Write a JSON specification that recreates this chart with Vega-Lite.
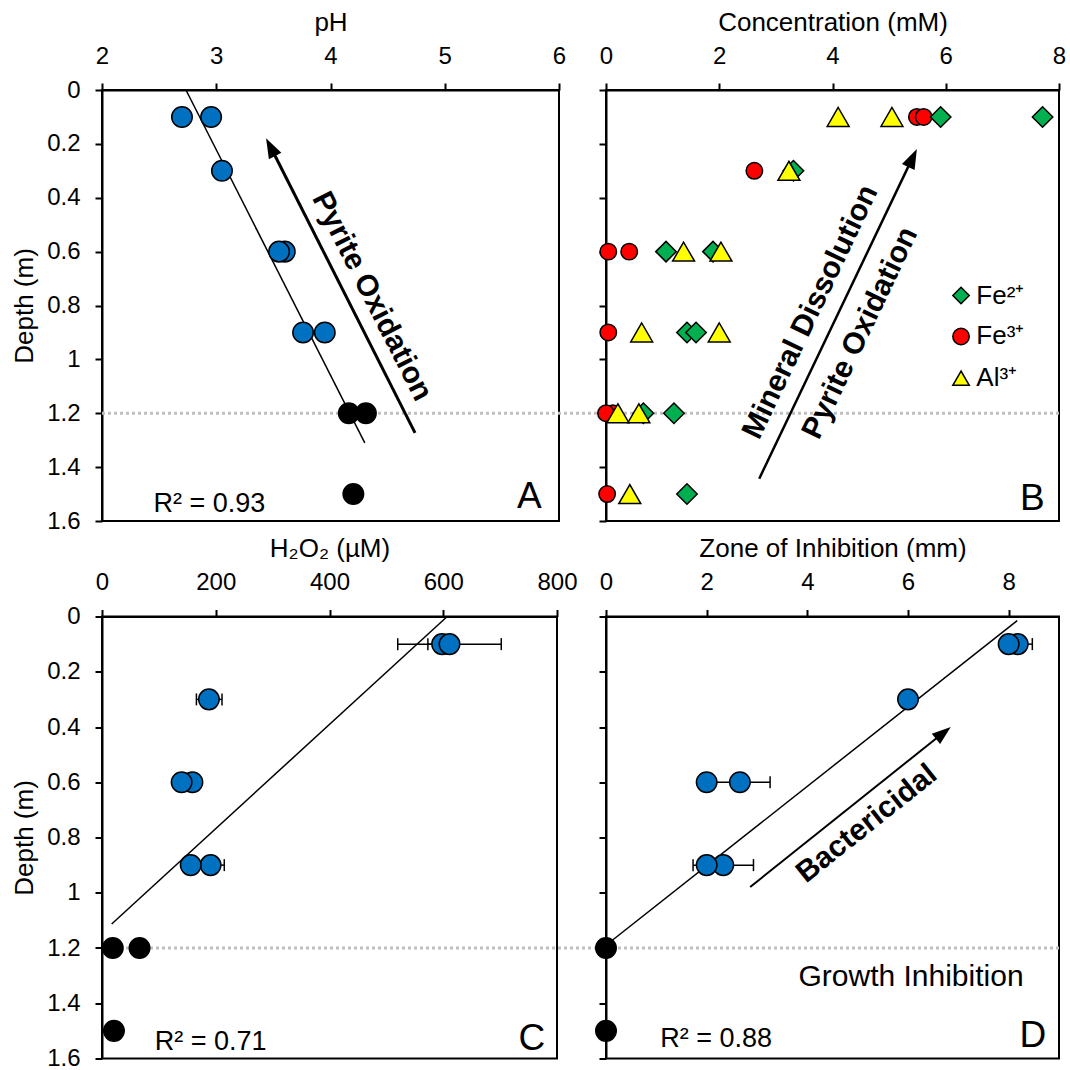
{
  "$schema": "https://vega.github.io/schema/vega-lite/v6.json",
  "background": "white",
  "padding": {"left": 10, "top": 8, "right": 0, "bottom": 0},
  "datasets": {
    "ph": [
      {"depth": 0.1, "x": 2.70, "zone": "upper"},
      {"depth": 0.1, "x": 2.955, "zone": "upper"},
      {"depth": 0.3, "x": 3.05, "zone": "upper"},
      {"depth": 0.6, "x": 3.60, "zone": "upper"},
      {"depth": 0.6, "x": 3.55, "zone": "upper"},
      {"depth": 0.9, "x": 3.76, "zone": "upper"},
      {"depth": 0.9, "x": 3.95, "zone": "upper"},
      {"depth": 1.2, "x": 4.16, "zone": "lower"},
      {"depth": 1.2, "x": 4.31, "zone": "lower"},
      {"depth": 1.5, "x": 4.20, "zone": "lower"}
    ],
    "ph_fit": [{"depth": 0.0, "x": 2.735}, {"depth": 1.31, "x": 4.30}],
    "ph_arrow": [{"depth": 1.273, "x": 4.74}, {"depth": 0.204, "x": 3.467}],
    "ph_head": [{"depth": 0.179, "x": 3.436}],
    "ph_rule": [{"depth": 1.2, "x": 2, "x2": 6.41}],
    "ph_arrowtext": [{"depth": 0.766, "x": 4.363, "label": "Pyrite Oxidation"}],
    "ph_r2": [{"depth": 1.537, "x": 2.94, "label": "R² = 0.93"}],
    "ph_letter": [{"depth": 1.511, "x": 5.74, "label": "A"}],
    "conc": [
      {"depth": 0.1, "x": 5.49, "ion": "Fe³⁺"},
      {"depth": 0.1, "x": 5.61, "ion": "Fe³⁺"},
      {"depth": 0.3, "x": 2.62, "ion": "Fe³⁺"},
      {"depth": 0.6, "x": 0.04, "ion": "Fe³⁺"},
      {"depth": 0.6, "x": 0.41, "ion": "Fe³⁺"},
      {"depth": 0.9, "x": 0.04, "ion": "Fe³⁺"},
      {"depth": 1.2, "x": 0.12, "ion": "Fe³⁺"},
      {"depth": 1.2, "x": 0.0, "ion": "Fe³⁺"},
      {"depth": 1.5, "x": 0.02, "ion": "Fe³⁺"},
      {"depth": 0.1, "x": 5.91, "ion": "Fe²⁺"},
      {"depth": 0.1, "x": 7.71, "ion": "Fe²⁺"},
      {"depth": 0.3, "x": 3.31, "ion": "Fe²⁺"},
      {"depth": 0.6, "x": 1.06, "ion": "Fe²⁺"},
      {"depth": 0.6, "x": 1.89, "ion": "Fe²⁺"},
      {"depth": 0.9, "x": 1.43, "ion": "Fe²⁺"},
      {"depth": 0.9, "x": 1.59, "ion": "Fe²⁺"},
      {"depth": 1.2, "x": 0.66, "ion": "Fe²⁺"},
      {"depth": 1.2, "x": 1.20, "ion": "Fe²⁺"},
      {"depth": 1.5, "x": 1.43, "ion": "Fe²⁺"},
      {"depth": 0.1, "x": 4.10, "ion": "Al³⁺"},
      {"depth": 0.1, "x": 5.05, "ion": "Al³⁺"},
      {"depth": 0.3, "x": 3.23, "ion": "Al³⁺"},
      {"depth": 0.6, "x": 1.37, "ion": "Al³⁺"},
      {"depth": 0.6, "x": 2.03, "ion": "Al³⁺"},
      {"depth": 0.9, "x": 0.63, "ion": "Al³⁺"},
      {"depth": 0.9, "x": 2.00, "ion": "Al³⁺"},
      {"depth": 1.2, "x": 0.21, "ion": "Al³⁺"},
      {"depth": 1.2, "x": 0.58, "ion": "Al³⁺"},
      {"depth": 1.5, "x": 0.42, "ion": "Al³⁺"}
    ],
    "conc_legend": [
      {"depth": 0.763, "x": 6.27, "xl": 6.54, "ion": "Fe²⁺"},
      {"depth": 0.915, "x": 6.27, "xl": 6.54, "ion": "Fe³⁺"},
      {"depth": 1.07, "x": 6.27, "xl": 6.54, "ion": "Al³⁺"}
    ],
    "conc_arrow": [{"depth": 1.443, "x": 2.706}, {"depth": 0.253, "x": 5.41}],
    "conc_head": [{"depth": 0.219, "x": 5.49}],
    "conc_rule": [{"depth": 1.2, "x": 0, "x2": 8}],
    "conc_text1": [{"depth": 0.824, "x": 3.61, "label": "Mineral Dissolution"}],
    "conc_text2": [{"depth": 0.902, "x": 4.49, "label": "Pyrite Oxidation"}],
    "conc_letter": [{"depth": 1.52, "x": 7.53, "label": "B"}],
    "h2o2": [
      {"depth": 0.1, "x": 598, "zone": "upper"},
      {"depth": 0.1, "x": 611, "zone": "upper"},
      {"depth": 0.3, "x": 188, "zone": "upper"},
      {"depth": 0.6, "x": 159, "zone": "upper"},
      {"depth": 0.6, "x": 140, "zone": "upper"},
      {"depth": 0.9, "x": 191, "zone": "upper"},
      {"depth": 0.9, "x": 156, "zone": "upper"},
      {"depth": 1.2, "x": 19, "zone": "lower"},
      {"depth": 1.2, "x": 66, "zone": "lower"},
      {"depth": 1.5, "x": 21, "zone": "lower"}
    ],
    "h2o2_err": [
      {"depth": 0.1, "lo": 573, "hi": 623},
      {"depth": 0.1, "lo": 520, "hi": 702},
      {"depth": 0.3, "lo": 166, "hi": 211},
      {"depth": 0.9, "lo": 167, "hi": 215}
    ],
    "h2o2_fit": [{"depth": 0.0, "x": 607}, {"depth": 1.113, "x": 17}],
    "h2o2_rule": [{"depth": 1.2, "x": 0, "x2": 887}],
    "h2o2_r2": [{"depth": 1.54, "x": 191, "label": "R² = 0.71"}],
    "h2o2_letter": [{"depth": 1.53, "x": 756, "label": "C"}],
    "zoi": [
      {"depth": 0.1, "x": 8.18, "zone": "upper"},
      {"depth": 0.1, "x": 8.0, "zone": "upper"},
      {"depth": 0.3, "x": 6.0, "zone": "upper"},
      {"depth": 0.6, "x": 2.66, "zone": "upper"},
      {"depth": 0.6, "x": 2.0, "zone": "upper"},
      {"depth": 0.9, "x": 2.33, "zone": "upper"},
      {"depth": 0.9, "x": 2.0, "zone": "upper"},
      {"depth": 1.2, "x": 0, "zone": "lower"},
      {"depth": 1.5, "x": 0, "zone": "lower"}
    ],
    "zoi_err": [
      {"depth": 0.1, "lo": 7.89, "hi": 8.47},
      {"depth": 0.6, "lo": 2.06, "hi": 3.26},
      {"depth": 0.9, "lo": 1.73, "hi": 2.93}
    ],
    "zoi_fit": [{"depth": 1.19, "x": 0.0}, {"depth": 0.015, "x": 8.17}],
    "zoi_arrow": [{"depth": 0.979, "x": 2.865}, {"depth": 0.4225, "x": 6.69}],
    "zoi_head": [{"depth": 0.40, "x": 6.85}],
    "zoi_rule": [{"depth": 1.2, "x": 0, "x2": 9}],
    "zoi_arrowtext": [{"depth": 0.75, "x": 5.18, "label": "Bactericidal"}],
    "zoi_growth": [{"depth": 1.306, "x": 6.06, "label": "Growth Inhibition"}],
    "zoi_r2": [{"depth": 1.53, "x": 2.19, "label": "R² = 0.88"}],
    "zoi_letter": [{"depth": 1.52, "x": 8.48, "label": "D"}]
  },
  "columns": 2,
  "bounds": "flush",
  "spacing": {"row": 95.5, "column": 47},
  "resolve": {
    "scale": {"fill": "independent", "shape": "independent"},
    "legend": {"fill": "independent", "shape": "independent"}
  },
  "concat": [
    {
      "width": 457, "height": 431,
      "encoding": {
        "x": {"field": "x", "type": "quantitative", "scale": {"domain": [2, 6], "nice": false, "zero": false},
              "axis": {"orient": "top", "title": "pH", "values": [2, 3, 4, 5, 6], "format": "~g"}},
        "y": {"field": "depth", "type": "quantitative", "scale": {"domain": [0, 1.6], "reverse": true, "nice": false, "zero": false},
              "axis": {"title": "Depth (m)", "values": [0, 0.2, 0.4, 0.6, 0.8, 1, 1.2, 1.4, 1.6], "format": "~g"}}
      },
      "layer": [
        {"data": {"name": "ph_rule"}, "mark": {"type": "rule", "color": "#c0c0c0", "strokeWidth": 3, "strokeDash": [3, 3]},
         "encoding": {"x2": {"field": "x2"}}},
        {"data": {"name": "ph_fit"}, "mark": {"type": "line", "color": "black", "strokeWidth": 1.5}, "encoding": {}},
        {"data": {"name": "ph_arrow"}, "mark": {"type": "line", "color": "black", "strokeWidth": 3}, "encoding": {}},
        {"data": {"name": "ph_head"}, "mark": {"type": "point", "shape": "M0,0L0.7,2L-0.7,2Z", "filled": true, "color": "black", "opacity": 1, "size": 400, "angle": 333}},
        {"data": {"name": "ph"}, "mark": {"type": "point", "filled": true, "opacity": 1, "size": 420, "stroke": "black", "strokeWidth": 1.5},
         "encoding": {"fill": {"field": "zone", "type": "nominal", "scale": {"domain": ["upper", "lower"], "range": ["#0070c0", "#000000"]}, "legend": null}}},
        {"data": {"name": "ph_arrowtext"}, "mark": {"type": "text", "fontSize": 30, "fontWeight": "bold", "angle": 63, "align": "center", "baseline": "middle", "color": "black"},
         "encoding": {"text": {"field": "label"}}},
        {"data": {"name": "ph_r2"}, "mark": {"type": "text", "fontSize": 27, "align": "center", "baseline": "middle", "color": "black"},
         "encoding": {"text": {"field": "label"}}},
        {"data": {"name": "ph_letter"}, "mark": {"type": "text", "fontSize": 37, "align": "center", "baseline": "middle", "color": "black"},
         "encoding": {"text": {"field": "label"}}}
      ]
    },
    {
      "width": 453, "height": 431,
      "encoding": {
        "x": {"field": "x", "type": "quantitative", "scale": {"domain": [0, 8], "nice": false, "zero": false},
              "axis": {"orient": "top", "title": "Concentration (mM)", "values": [0, 2, 4, 6, 8], "format": "~g"}},
        "y": {"field": "depth", "type": "quantitative", "scale": {"domain": [0, 1.6], "reverse": true, "nice": false, "zero": false},
              "axis": {"title": null, "labels": false, "values": [0, 0.2, 0.4, 0.6, 0.8, 1, 1.2, 1.4, 1.6]}}
      },
      "layer": [
        {"data": {"name": "conc_rule"}, "mark": {"type": "rule", "color": "#c0c0c0", "strokeWidth": 3, "strokeDash": [3, 3]},
         "encoding": {"x2": {"field": "x2"}}},
        {"data": {"name": "conc_arrow"}, "mark": {"type": "line", "color": "black", "strokeWidth": 2.5}, "encoding": {}},
        {"data": {"name": "conc_head"}, "mark": {"type": "point", "shape": "M0,0L0.7,2L-0.7,2Z", "filled": true, "color": "black", "opacity": 1, "size": 400, "angle": 25.5}},
        {"data": {"name": "conc"}, "transform": [{"filter": "datum.ion === 'Fe³⁺'"}],
         "mark": {"type": "point", "filled": true, "opacity": 1, "stroke": "black", "strokeWidth": 1.5, "size": 270},
         "encoding": {
           "fill": {"field": "ion", "type": "nominal", "scale": {"domain": ["Fe²⁺", "Fe³⁺", "Al³⁺"], "range": ["#00b050", "#ff0000", "#ffff00"]}, "legend": null},
           "shape": {"field": "ion", "type": "nominal", "scale": {"domain": ["Fe²⁺", "Fe³⁺", "Al³⁺"], "range": ["diamond", "circle", "triangle-up"]}, "legend": null}
         }},
        {"data": {"name": "conc"}, "transform": [{"filter": "datum.ion === 'Fe²⁺'"}],
         "mark": {"type": "point", "filled": true, "opacity": 1, "stroke": "black", "strokeWidth": 1.5, "size": 420},
         "encoding": {
           "fill": {"field": "ion", "type": "nominal", "legend": null},
           "shape": {"field": "ion", "type": "nominal", "legend": null}
         }},
        {"data": {"name": "conc"}, "transform": [{"filter": "datum.ion === 'Al³⁺'"}],
         "mark": {"type": "point", "filled": true, "opacity": 1, "stroke": "black", "strokeWidth": 1.5, "size": 480},
         "encoding": {
           "fill": {"field": "ion", "type": "nominal", "legend": null},
           "shape": {"field": "ion", "type": "nominal", "legend": null}
         }},
        {"data": {"name": "conc_legend"},
         "mark": {"type": "point", "filled": true, "opacity": 1, "stroke": "black", "strokeWidth": 1.5, "size": 270},
         "encoding": {
           "fill": {"field": "ion", "type": "nominal", "legend": null},
           "shape": {"field": "ion", "type": "nominal", "legend": null}
         }},
        {"data": {"name": "conc_legend"},
         "mark": {"type": "text", "fontSize": 26, "align": "left", "baseline": "middle", "color": "black"},
         "encoding": {"x": {"field": "xl", "type": "quantitative"}, "text": {"field": "ion"}}},
        {"data": {"name": "conc_text1"}, "mark": {"type": "text", "fontSize": 30, "fontWeight": "bold", "angle": -64.5, "align": "center", "baseline": "middle", "color": "black"},
         "encoding": {"text": {"field": "label"}}},
        {"data": {"name": "conc_text2"}, "mark": {"type": "text", "fontSize": 30, "fontWeight": "bold", "angle": -64.5, "align": "center", "baseline": "middle", "color": "black"},
         "encoding": {"text": {"field": "label"}}},
        {"data": {"name": "conc_letter"}, "mark": {"type": "text", "fontSize": 37, "align": "center", "baseline": "middle", "color": "black"},
         "encoding": {"text": {"field": "label"}}}
      ]
    },
    {
      "width": 455, "height": 442,
      "encoding": {
        "x": {"field": "x", "type": "quantitative", "scale": {"domain": [0, 800], "nice": false, "zero": false},
              "axis": {"orient": "top", "title": "H₂O₂ (µM)", "values": [0, 200, 400, 600, 800], "format": "d"}},
        "y": {"field": "depth", "type": "quantitative", "scale": {"domain": [0, 1.6], "reverse": true, "nice": false, "zero": false},
              "axis": {"title": "Depth (m)", "values": [0, 0.2, 0.4, 0.6, 0.8, 1, 1.2, 1.4, 1.6], "format": "~g"}}
      },
      "layer": [
        {"data": {"name": "h2o2_rule"}, "mark": {"type": "rule", "color": "#c0c0c0", "strokeWidth": 3, "strokeDash": [3, 3]},
         "encoding": {"x2": {"field": "x2"}}},
        {"data": {"name": "h2o2_fit"}, "mark": {"type": "line", "color": "black", "strokeWidth": 1.5}, "encoding": {}},
        {"data": {"name": "h2o2_err"}, "mark": {"type": "rule", "color": "black", "strokeWidth": 1.5},
         "encoding": {"x": {"field": "lo", "type": "quantitative"}, "x2": {"field": "hi"}}},
        {"data": {"name": "h2o2_err"}, "mark": {"type": "tick", "orient": "vertical", "color": "black", "size": 12, "thickness": 1.5, "opacity": 1},
         "encoding": {"x": {"field": "lo", "type": "quantitative"}}},
        {"data": {"name": "h2o2_err"}, "mark": {"type": "tick", "orient": "vertical", "color": "black", "size": 12, "thickness": 1.5, "opacity": 1},
         "encoding": {"x": {"field": "hi", "type": "quantitative"}}},
        {"data": {"name": "h2o2"}, "mark": {"type": "point", "filled": true, "opacity": 1, "size": 420, "stroke": "black", "strokeWidth": 1.5},
         "encoding": {"fill": {"field": "zone", "type": "nominal", "scale": {"domain": ["upper", "lower"], "range": ["#0070c0", "#000000"]}, "legend": null}}},
        {"data": {"name": "h2o2_r2"}, "mark": {"type": "text", "fontSize": 27, "align": "center", "baseline": "middle", "color": "black"},
         "encoding": {"text": {"field": "label"}}},
        {"data": {"name": "h2o2_letter"}, "mark": {"type": "text", "fontSize": 37, "align": "center", "baseline": "middle", "color": "black"},
         "encoding": {"text": {"field": "label"}}}
      ]
    },
    {
      "width": 453, "height": 442,
      "encoding": {
        "x": {"field": "x", "type": "quantitative", "scale": {"domain": [0, 9], "nice": false, "zero": false},
              "axis": {"orient": "top", "title": "Zone of Inhibition (mm)", "values": [0, 2, 4, 6, 8], "format": "~g"}},
        "y": {"field": "depth", "type": "quantitative", "scale": {"domain": [0, 1.6], "reverse": true, "nice": false, "zero": false},
              "axis": {"title": null, "labels": false, "values": [0, 0.2, 0.4, 0.6, 0.8, 1, 1.2, 1.4, 1.6]}}
      },
      "layer": [
        {"data": {"name": "zoi_rule"}, "mark": {"type": "rule", "color": "#c0c0c0", "strokeWidth": 3, "strokeDash": [3, 3]},
         "encoding": {"x2": {"field": "x2"}}},
        {"data": {"name": "zoi_fit"}, "mark": {"type": "line", "color": "black", "strokeWidth": 1.5}, "encoding": {}},
        {"data": {"name": "zoi_arrow"}, "mark": {"type": "line", "color": "black", "strokeWidth": 2}, "encoding": {}},
        {"data": {"name": "zoi_head"}, "mark": {"type": "point", "shape": "M0,0L0.7,2L-0.7,2Z", "filled": true, "color": "black", "opacity": 1, "size": 360, "angle": 51.4}},
        {"data": {"name": "zoi_err"}, "mark": {"type": "rule", "color": "black", "strokeWidth": 1.5},
         "encoding": {"x": {"field": "lo", "type": "quantitative"}, "x2": {"field": "hi"}}},
        {"data": {"name": "zoi_err"}, "mark": {"type": "tick", "orient": "vertical", "color": "black", "size": 12, "thickness": 1.5, "opacity": 1},
         "encoding": {"x": {"field": "lo", "type": "quantitative"}}},
        {"data": {"name": "zoi_err"}, "mark": {"type": "tick", "orient": "vertical", "color": "black", "size": 12, "thickness": 1.5, "opacity": 1},
         "encoding": {"x": {"field": "hi", "type": "quantitative"}}},
        {"data": {"name": "zoi"}, "mark": {"type": "point", "filled": true, "opacity": 1, "size": 420, "stroke": "black", "strokeWidth": 1.5},
         "encoding": {"fill": {"field": "zone", "type": "nominal", "scale": {"domain": ["upper", "lower"], "range": ["#0070c0", "#000000"]}, "legend": null}}},
        {"data": {"name": "zoi_arrowtext"}, "mark": {"type": "text", "fontSize": 30, "fontWeight": "bold", "angle": -38.6, "align": "center", "baseline": "middle", "color": "black"},
         "encoding": {"text": {"field": "label"}}},
        {"data": {"name": "zoi_growth"}, "mark": {"type": "text", "fontSize": 30, "align": "center", "baseline": "middle", "color": "black"},
         "encoding": {"text": {"field": "label"}}},
        {"data": {"name": "zoi_r2"}, "mark": {"type": "text", "fontSize": 27, "align": "center", "baseline": "middle", "color": "black"},
         "encoding": {"text": {"field": "label"}}},
        {"data": {"name": "zoi_letter"}, "mark": {"type": "text", "fontSize": 37, "align": "center", "baseline": "middle", "color": "black"},
         "encoding": {"text": {"field": "label"}}}
      ]
    }
  ],
  "config": {
    "font": "Liberation Sans",
    "view": {"stroke": "black", "strokeWidth": 2},
    "axis": {
      "domainColor": "black", "domainWidth": 2, "tickColor": "black", "tickWidth": 2, "tickSize": 7,
      "labelFontSize": 24, "labelColor": "black", "labelPadding": 15, "labelFlush": false, "labelOverlap": false,
      "titleFontSize": 26, "titleFontWeight": "normal", "titleColor": "black", "titlePadding": 9, "grid": false
    }
  }
}
